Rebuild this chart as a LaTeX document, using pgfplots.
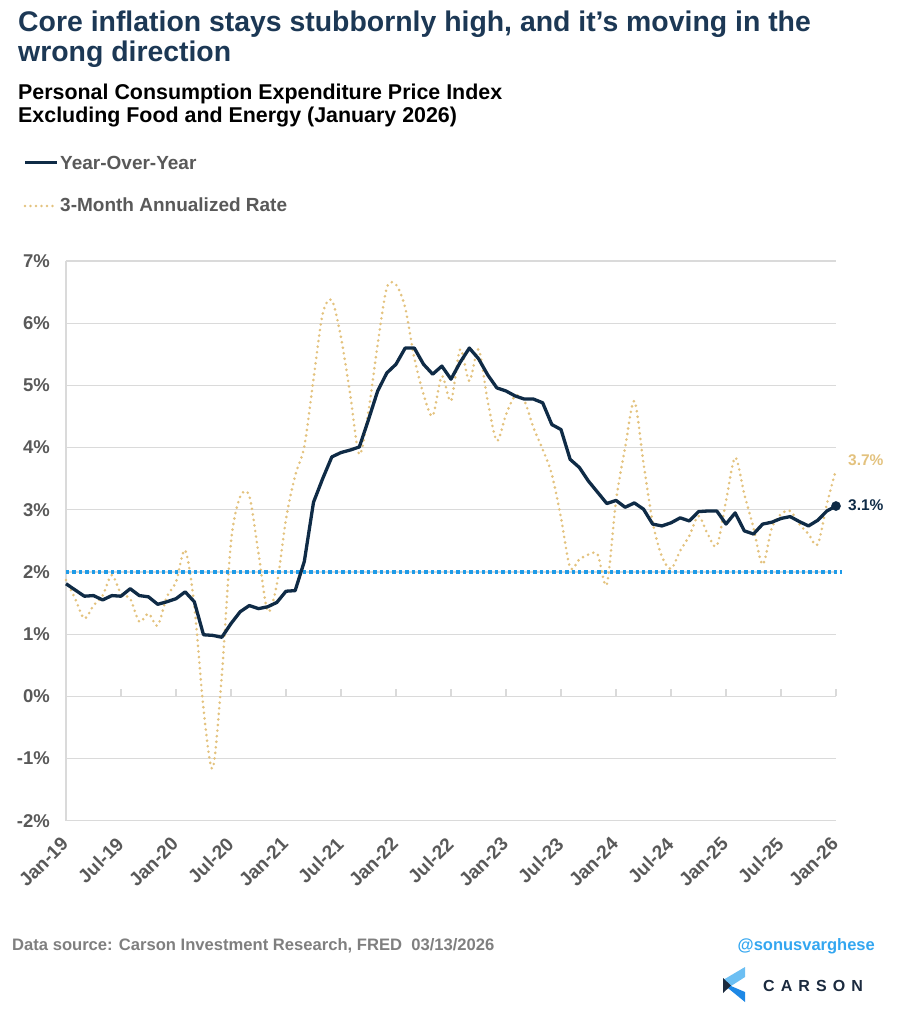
\documentclass[border=0pt]{standalone}
\usepackage{fontspec}
\setmainfont{Liberation Sans}
\usepackage{pgfplots}
\pgfplotsset{compat=1.18}
\usepackage{pgfplotstable}

\definecolor{titlenavy}{HTML}{1C3855}
\definecolor{yoynavy}{HTML}{0F2B46}
\definecolor{gold}{HTML}{E3C27E}
\definecolor{tgtblue}{HTML}{1E9BE8}
\definecolor{labgray}{HTML}{595959}
\definecolor{footgray}{HTML}{7F7F7F}
\definecolor{handleblue}{HTML}{33A6F0}
\definecolor{gridgray}{HTML}{DADADA}
\definecolor{logolight}{HTML}{6CBFF3}
\definecolor{logomid}{HTML}{1E88E5}
\definecolor{logodark}{HTML}{1B2A3E}

\pgfplotstableread{
m v
0 1.81
1 1.71
2 1.61
3 1.62
4 1.55
5 1.62
6 1.61
7 1.73
8 1.62
9 1.60
10 1.48
11 1.52
12 1.57
13 1.68
14 1.52
15 0.99
16 0.98
17 0.95
18 1.17
19 1.36
20 1.46
21 1.41
22 1.44
23 1.51
24 1.69
25 1.70
26 2.17
27 3.12
28 3.50
29 3.85
30 3.92
31 3.96
32 4.01
33 4.45
34 4.91
35 5.20
36 5.34
37 5.60
38 5.60
39 5.34
40 5.18
41 5.31
42 5.10
43 5.37
44 5.60
45 5.43
46 5.17
47 4.96
48 4.91
49 4.83
50 4.78
51 4.78
52 4.72
53 4.37
54 4.29
55 3.81
56 3.68
57 3.46
58 3.28
59 3.10
60 3.15
61 3.04
62 3.11
63 3.01
64 2.77
65 2.74
66 2.79
67 2.87
68 2.82
69 2.97
70 2.98
71 2.98
72 2.77
73 2.95
74 2.66
75 2.61
76 2.77
77 2.80
78 2.86
79 2.89
80 2.81
81 2.74
82 2.83
83 2.98
84 3.06
}\yoy

\pgfplotstableread{
m v
0 1.87
1 1.57
2 1.25
3 1.46
4 1.62
5 1.95
6 1.65
7 1.57
8 1.20
9 1.33
10 1.14
11 1.60
12 1.84
13 2.35
14 1.46
15 -0.20
16 -1.16
17 0.34
18 2.48
19 3.21
20 3.22
21 2.30
22 1.37
23 1.80
24 2.85
25 3.55
26 4.02
27 5.10
28 6.15
29 6.37
30 5.77
31 4.86
32 3.89
33 4.59
34 5.66
35 6.57
36 6.62
37 6.25
38 5.44
39 4.86
40 4.51
41 5.15
42 4.75
43 5.58
44 5.07
45 5.58
46 4.75
47 4.11
48 4.53
49 4.83
50 4.75
51 4.32
52 3.97
53 3.57
54 2.87
55 2.07
56 2.20
57 2.28
58 2.28
59 1.80
60 3.14
61 4.00
62 4.75
63 3.75
64 2.80
65 2.25
66 2.05
67 2.34
68 2.58
69 2.90
70 2.61
71 2.42
72 3.14
73 3.84
74 3.25
75 2.71
76 2.12
77 2.71
78 2.93
79 2.98
80 2.77
81 2.61
82 2.44
83 3.09
84 3.65
}\threem

\begin{document}
\begin{tikzpicture}
\useasboundingbox (0pt,0pt) rectangle (900pt,-1024pt);

% Title
\node[anchor=base west, inner sep=0pt, text=titlenavy, font=\bfseries\fontsize{28.4}{30}\selectfont] at (18pt,-32pt) {Core inflation stays stubbornly high, and it's moving in the};
\node[anchor=base west, inner sep=0pt, text=titlenavy, font=\bfseries\fontsize{28.4}{30}\selectfont] at (18pt,-62pt) {wrong direction};

% Subtitle
\node[anchor=base west, inner sep=0pt, text=black, font=\bfseries\fontsize{21.4}{23}\selectfont] at (18pt,-100pt) {Personal Consumption Expenditure Price Index};
\node[anchor=base west, inner sep=0pt, text=black, font=\bfseries\fontsize{21.4}{23}\selectfont] at (18pt,-122.7pt) {Excluding Food and Energy (January 2026)};

% Legend
\draw[yoynavy, line width=3.2pt] (25pt,-162.7pt) -- (57pt,-162.7pt);
\node[anchor=base west, inner sep=0pt, text=labgray, font=\bfseries\fontsize{19}{21}\selectfont] at (60pt,-169.3pt) {Year-Over-Year};
\draw[gold, line width=2.6pt, line cap=round, dash pattern=on 0pt off 5.5pt] (25pt,-206pt) -- (56pt,-206pt);
\node[anchor=base west, inner sep=0pt, text=labgray, font=\bfseries\fontsize{19}{21}\selectfont] at (60pt,-211.7pt) {3-Month Annualized Rate};

\begin{axis}[
  at={(66pt,-820.7pt)}, anchor=south west,
  scale only axis, width=770pt, height=559.7pt,
  xmin=0, xmax=84, ymin=-2, ymax=7,
  axis line style={draw=none},
  ytick={-2,-1,0,1,2,3,4,5,6,7},
  yticklabels={-2\%,-1\%,0\%,1\%,2\%,3\%,4\%,5\%,6\%,7\%},
  ymajorgrids,
  grid style={draw=gridgray, line width=1.2pt},
  xtick={0,6,...,84},
  xticklabels={Jan-19,Jul-19,Jan-20,Jul-20,Jan-21,Jul-21,Jan-22,Jul-22,Jan-23,Jul-23,Jan-24,Jul-24,Jan-25,Jul-25,Jan-26},
  major tick length=0pt,
  /pgf/number format/assume math mode=true,
  y tick label style={font=\bfseries\fontsize{18.5}{20}\selectfont, text=labgray, inner sep=0pt, anchor=east, xshift=-16pt},
  x tick label style={xshift=-6pt, yshift=-15pt, font=\bfseries\fontsize{19}{21}\selectfont, text=labgray, inner sep=0pt, rotate=45, anchor=north east},
  clip=false,
]
% left axis line and ticks on the zero line
\draw[gridgray, line width=1.2pt] (axis cs:0,-2) -- (axis cs:0,7);
\pgfplotsinvokeforeach{6,12,18,24,30,36,42,48,54,60,66,72,78,84}{
  \draw[gridgray, line width=1.2pt] (axis cs:#1,0) -- ++(0pt,7pt);
}

\addplot[gold, line width=2.9pt, line cap=round, dash pattern=on 0pt off 5.6pt, smooth, tension=0.5] table[x=m, y=v] {\threem};
\addplot[tgtblue, line width=3.3pt, dash pattern=on 3.3pt off 3.1pt] coordinates {(0,2) (84.7,2)};
\addplot[yoynavy, line width=3.3pt, line join=round] table[x=m, y=v] {\yoy};
\addplot[only marks, mark=*, mark size=4.6pt, yoynavy] coordinates {(84,3.06)};

\node[anchor=west, inner sep=0pt, text=gold, font=\bfseries\fontsize{15.5}{17}\selectfont, xshift=12pt] at (axis cs:84,3.8) {3.7\%};
\node[anchor=west, inner sep=0pt, text=yoynavy, font=\bfseries\fontsize{15.5}{17}\selectfont, xshift=12pt] at (axis cs:84,3.08) {3.1\%};
\end{axis}

% Footer
\node[anchor=base west, inner sep=0pt, text=footgray, font=\bfseries\fontsize{16.6}{18}\selectfont] at (12pt,-950pt) {Data source: Carson Investment Research, FRED\ \ 03/13/2026};
\node[anchor=base east, inner sep=0pt, text=handleblue, font=\bfseries\fontsize{16.5}{18}\selectfont] at (875pt,-950pt) {@sonusvarghese};

% Logo
\fill[logolight] (723pt,-980pt) -- (745pt,-967pt) -- (745pt,-977pt) -- (731pt,-986pt) -- cycle;
\fill[logomid] (723pt,-984pt) -- (731pt,-986pt) -- (745pt,-992pt) -- (745pt,-1002pt) -- cycle;
\fill[logodark] (723pt,-978pt) -- (731pt,-985.5pt) -- (723pt,-993pt) -- cycle;
\node[anchor=base west, inner sep=0pt, text=logodark, font=\bfseries\fontsize{16}{18}\selectfont\addfontfeature{LetterSpace=38}] at (763pt,-991pt) {CARSON};
\end{tikzpicture}
\end{document}
